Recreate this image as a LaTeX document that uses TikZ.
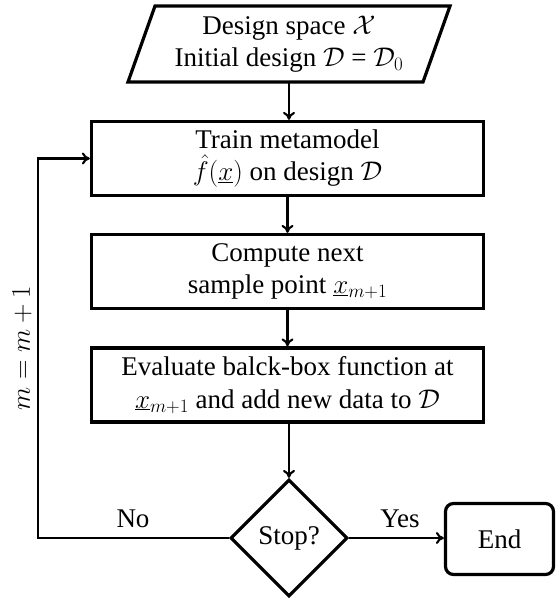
\documentclass[tikz,border=0pt]{standalone}
\usepackage{fix-cm}
\usepackage[no-math]{fontspec}
\setmainfont{Liberation Serif}
\usetikzlibrary{shapes.geometric,arrows.meta}

\tikzset{
  every node/.style={font=\fontsize{27}{32.5}\selectfont},
  procbox/.style={draw, line width=3.2pt, minimum width=392pt, minimum height=74pt,
                  align=center, inner sep=0pt},
  decision/.style={draw, diamond, aspect=1, line width=3.2pt, minimum size=117pt,
                   inner sep=0pt},
  terminal/.style={draw, rounded corners=8pt, line width=3.2pt, minimum width=108pt,
                   minimum height=71pt, inner sep=0pt},
  iobox/.style={line width=3.2pt, line join=miter},
  flow/.style={line width=2.1pt, -{To[length=8pt,width=12pt]}},
  lbl/.style={inner sep=0pt}
}

\begin{document}
\begin{tikzpicture}[x=1pt, y=-1pt]
  \useasboundingbox (0,0) rectangle (556,601);

  % input parallelogram
  \coordinate (ptl) at (155,6);
  \coordinate (ptr) at (450,6);
  \coordinate (pbr) at (423,82);
  \coordinate (pbl) at (128,82);
  \draw[iobox] (ptl) -- (ptr) -- (pbr) -- (pbl) -- cycle;
  \node[align=center, inner sep=0pt] (input) at (289,44)
    {Design space $\mathcal{X}$\\ Initial design $\mathcal{D}$ = $\mathcal{D}_0$};
  \coordinate (inbot) at (289,82);

  % process steps
  \node[procbox] (train) at (287.5,158.5)
    {Train metamodel\\ $\hat{f}(\underline{x})$ on design $\mathcal{D}$};
  \node[procbox] (next) at (287.5,271.5)
    {Compute next\\ sample point $\underline{x}_{m+1}$};
  \node[procbox] (eval) at (287.5,385)
    {Evaluate balck-box function at\\ $\underline{x}_{m+1}$ and add new data to $\mathcal{D}$};

  % decision and end
  \node[decision] (stop) at (289,538) {Stop?};
  \node[terminal] (end) at (499.5,539) {End};

  % loop corner points
  \coordinate (lowleft) at (38,538);
  \coordinate (upleft) at (38,158.5);

  % connectors
  \draw[flow] (inbot) -- (train.north -| inbot);
  \draw[flow] (train.south) -- (next.north);
  \draw[flow] (next.south) -- (eval.north);
  \draw[flow] (eval.south -| stop) -- (stop.north);
  \draw[flow] (stop.east) -- (end.west |- stop.east);
  \draw[flow] (stop.west) -- (lowleft) -- (upleft) -- (train.west);

  % labels
  \node[lbl] (nolbl) at (133,519) {No};
  \node[lbl] (yeslbl) at (400,519) {Yes};
  \node[lbl, rotate=90] (inc) at (22,348) {$m = m + 1$};
\end{tikzpicture}
\end{document}
